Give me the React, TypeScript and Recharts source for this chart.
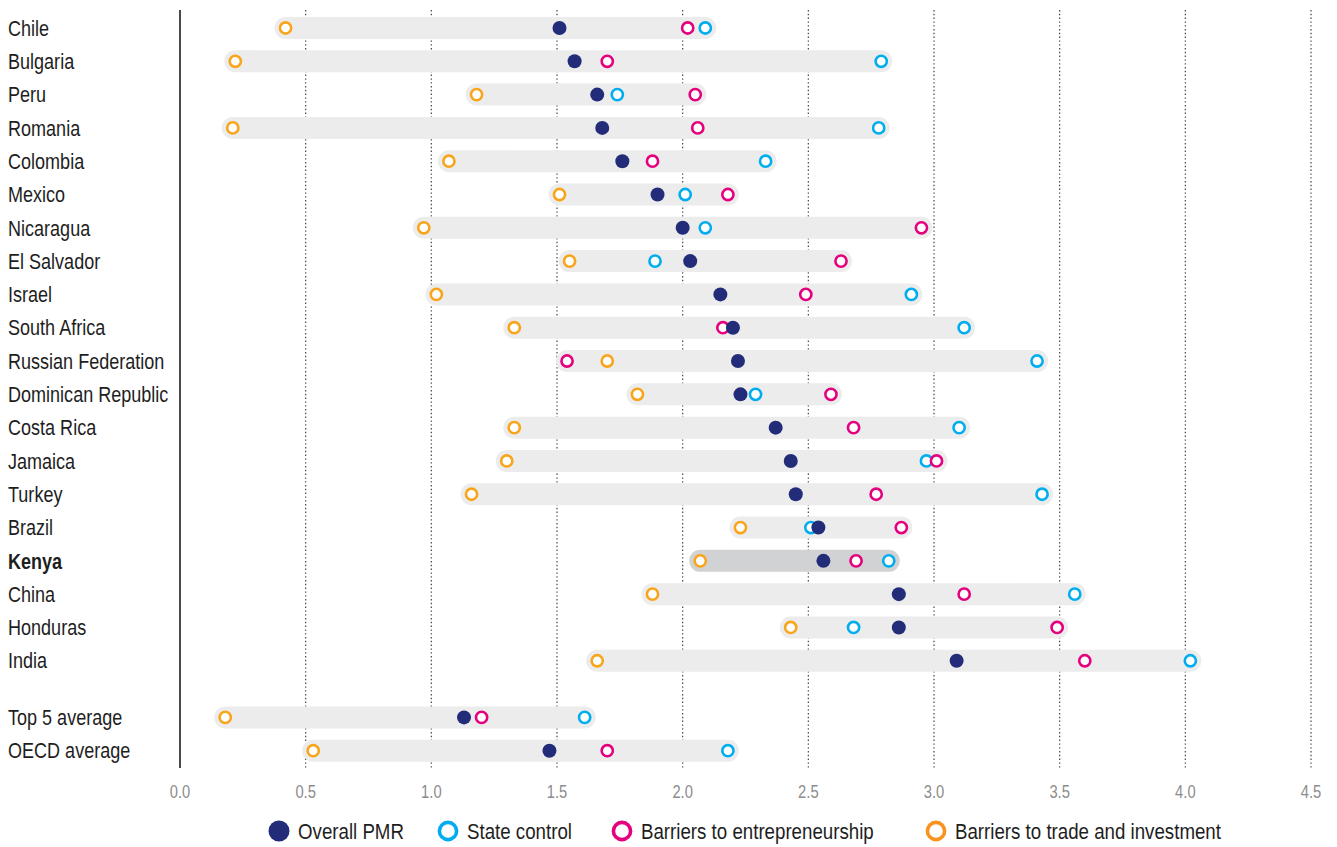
import React from 'react';
import { ScatterChart, Scatter, XAxis, YAxis, CartesianGrid } from 'recharts';

const countries = [
  'Chile', 'Bulgaria', 'Peru', 'Romania', 'Colombia', 'Mexico', 'Nicaragua', 'El Salvador',
  'Israel', 'South Africa', 'Russian Federation', 'Dominican Republic', 'Costa Rica', 'Jamaica',
  'Turkey', 'Brazil', 'Kenya', 'China', 'Honduras', 'India',
];
const averages = ['Top 5 average', 'OECD average'];
const highlighted = 'Kenya';

const overallPMR = [1.51, 1.57, 1.66, 1.68, 1.76, 1.90, 2.00, 2.03, 2.15, 2.20, 2.22, 2.23, 2.37, 2.43, 2.45, 2.54, 2.56, 2.86, 2.86, 3.09, 1.13, 1.47];
const stateControl = [2.09, 2.79, 1.74, 2.78, 2.33, 2.01, 2.09, 1.89, 2.91, 3.12, 3.41, 2.29, 3.10, 2.97, 3.43, 2.51, 2.82, 3.56, 2.68, 4.02, 1.61, 2.18];
const entrepreneurship = [2.02, 1.70, 2.05, 2.06, 1.88, 2.18, 2.95, 2.63, 2.49, 2.16, 1.54, 2.59, 2.68, 3.01, 2.77, 2.87, 2.69, 3.12, 3.49, 3.60, 1.20, 1.70];
const tradeInvestment = [0.42, 0.22, 1.18, 0.21, 1.07, 1.51, 0.97, 1.55, 1.02, 1.33, 1.70, 1.82, 1.33, 1.30, 1.16, 2.23, 2.07, 1.88, 2.43, 1.66, 0.18, 0.53];

const xTicks = [0, 0.5, 1.0, 1.5, 2.0, 2.5, 3.0, 3.5, 4.0, 4.5];

const legendItems = [
  { kind: 'filled', color: '#222c78', text: 'Overall PMR' },
  { kind: 'ring', color: '#00aeef', text: 'State control' },
  { kind: 'ring', color: '#e5007e', text: 'Barriers to entrepreneurship' },
  { kind: 'ring', color: '#f7931e', text: 'Barriers to trade and investment' },
];
const legendX = [279, 448, 622, 936];

const FONT = '"Liberation Sans", Arial, sans-serif';
const SQUEEZE = 0.82;
const LEGEND_SQUEEZE = 0.85;
const NAVY = '#222c78';
const CYAN = '#00aeef';
const MAGENTA = '#e5007e';
const ORANGE = '#f9a51b';

const labels = [...countries, ...averages];
const GAP = 0.7;
const rowPos = (i: number) => (i < countries.length ? i : i + GAP);
const yTicks = labels.map((_, i) => rowPos(i));
const labelAt = (v: number) => {
  const i = yTicks.findIndex((t) => Math.abs(t - v) < 1e-6);
  return i >= 0 ? labels[i] : '';
};

const series = (vals: number[]) => vals.map((x, i) => ({ x, y: rowPos(i), name: labels[i] }));
const overallData = series(overallPMR);
const stateData = series(stateControl);
const entreData = series(entrepreneurship);
const tradeData = series(tradeInvestment);

const ranges = labels.map((name, i) => {
  const vals = [overallPMR[i], stateControl[i], entrepreneurship[i], tradeInvestment[i]];
  return { name, y: rowPos(i), min: Math.min(...vals), max: Math.max(...vals) };
});

const Empty = () => <g />;

const ring = (color: string) => (props: any) => (
  <circle cx={props.cx} cy={props.cy} r={5.6} fill="#fff" stroke={color} strokeWidth={2.6} />
);
const filled = (props: any) => <circle cx={props.cx} cy={props.cy} r={7} fill={NAVY} />;

const YTick = (props: any) => {
  const { y, payload } = props;
  const label = labelAt(payload.value);
  return (
    <text
      transform={`translate(8, ${y + 7.7}) scale(${SQUEEZE}, 1)`}
      x={0}
      y={0}
      textAnchor="start"
      fontFamily={FONT}
      fontSize={22}
      fontWeight={label === highlighted ? 700 : 400}
      fill="#1e1e1e"
    >
      {label}
    </text>
  );
};

const XTick = (props: any) => {
  const { x, payload } = props;
  return (
    <text
      transform={`translate(${x}, 798) scale(${SQUEEZE}, 1)`}
      x={0}
      y={0}
      textAnchor="middle"
      fontFamily={FONT}
      fontSize={18}
      fill="#8c8c8c"
    >
      {Number(payload.value).toFixed(1)}
    </text>
  );
};

export default function App() {
  return (
    <div style={{ position: 'absolute', left: 0, top: 0, width: 1337, height: 847, background: '#fff' }}>
      <ScatterChart width={1337} height={847} margin={{ top: 10, right: 26, left: 0, bottom: 49 }}>
        <CartesianGrid horizontal={false} vertical stroke="#444" strokeDasharray="1.4 2.4" strokeWidth={1.2} />
        <XAxis
          type="number"
          dataKey="x"
          domain={[0, 4.5]}
          ticks={xTicks}
          allowDataOverflow
          axisLine={false}
          tickLine={false}
          height={30}
          tick={<XTick />}
        />
        <YAxis
          type="number"
          dataKey="y"
          domain={[-0.54, 22.22]}
          allowDataOverflow
          reversed
          ticks={yTicks}
          interval={0}
          width={180}
          axisLine={{ stroke: '#4a4a4a', strokeWidth: 2 }}
          tickLine={false}
          tick={<YTick />}
        />
        {ranges.map((r) => (
          <Scatter
            key={'bar-' + r.name}
            data={[{ x: r.min, y: r.y }, { x: r.max, y: r.y }]}
            line={{
              stroke: r.name === highlighted ? '#d1d2d4' : '#ececec',
              strokeWidth: 22,
              strokeLinecap: 'round',
            }}
            shape={<Empty />}
            isAnimationActive={false}
          />
        ))}
        <Scatter name="State control" data={stateData} shape={ring(CYAN)} isAnimationActive={false} />
        <Scatter name="Barriers to entrepreneurship" data={entreData} shape={ring(MAGENTA)} isAnimationActive={false} />
        <Scatter name="Barriers to trade and investment" data={tradeData} shape={ring(ORANGE)} isAnimationActive={false} />
        <Scatter name="Overall PMR" data={overallData} shape={filled} isAnimationActive={false} />
      </ScatterChart>
      <svg width={1337} height={40} style={{ position: 'absolute', left: 0, top: 811 }}>
        {legendItems.map((it, i) => (
          <g key={it.text}>
            {it.kind === 'filled' ? (
              <circle cx={legendX[i]} cy={20} r={10.5} fill={it.color} />
            ) : (
              <circle cx={legendX[i]} cy={20} r={8.6} fill="#fff" stroke={it.color} strokeWidth={3.6} />
            )}
            <text
              transform={`translate(${legendX[i] + 19}, 28) scale(${LEGEND_SQUEEZE}, 1)`}
              fontFamily={FONT}
              fontSize={22}
              fill="#1e1e1e"
            >
              {it.text}
            </text>
          </g>
        ))}
      </svg>
    </div>
  );
}
